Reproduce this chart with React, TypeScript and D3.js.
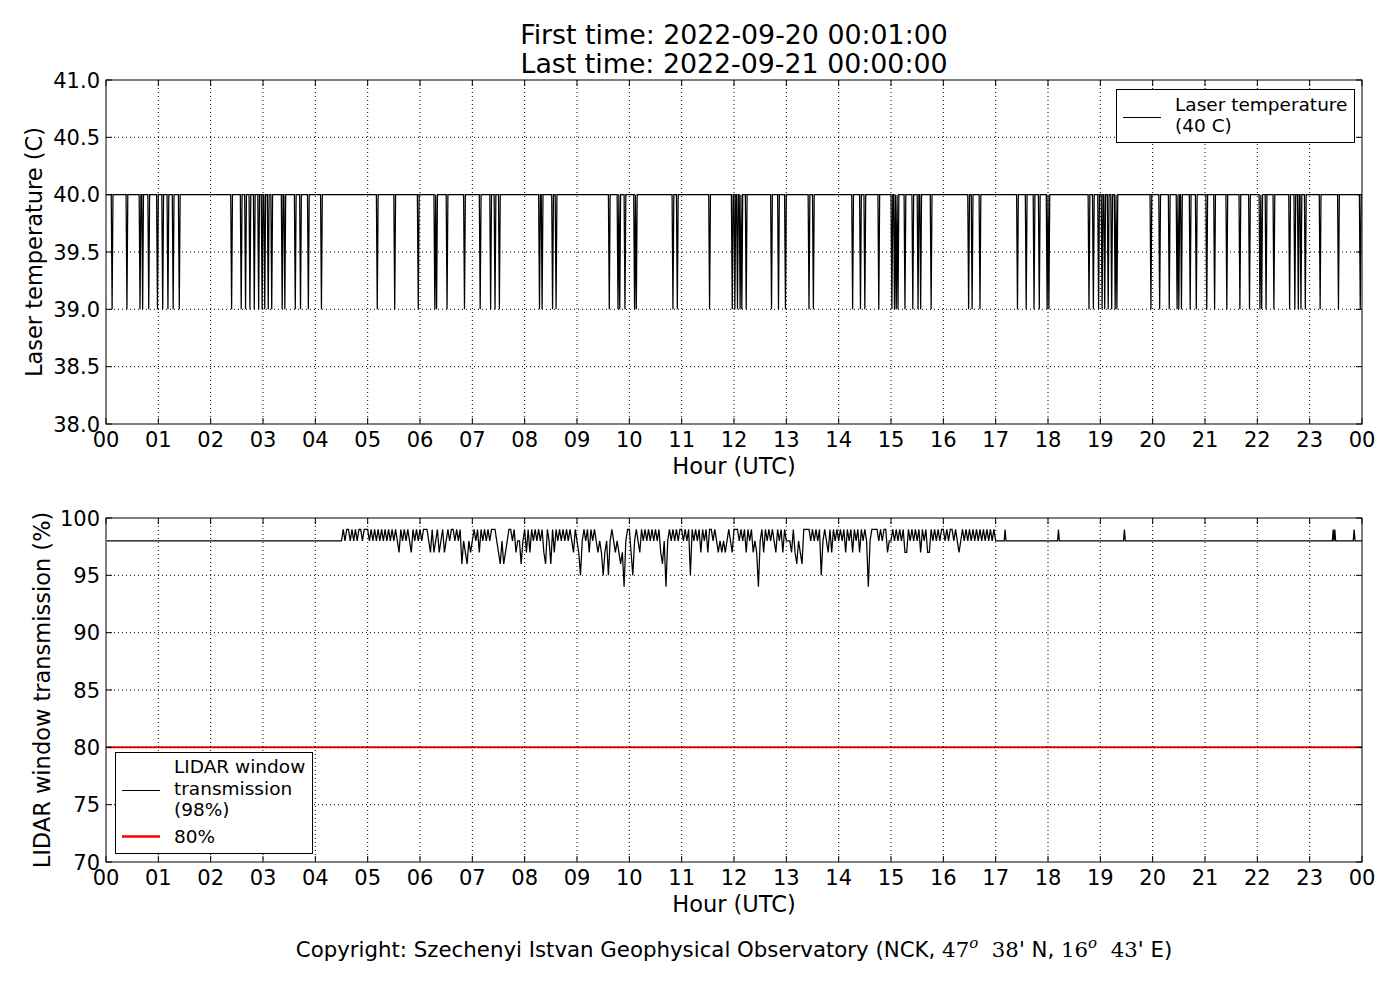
import React from "react";
import * as d3 from "d3";

// chart texts
const firstTime = "2022-09-20 00:01:00";
const lastTime = "2022-09-21 00:00:00";
const copyrightText = "Copyright: Szechenyi Istvan Geophysical Observatory (NCK, ";

// x axis: one tick per hour
const hourTicks = [0, 1, 2, 3, 4, 5, 6, 7, 8, 9, 10, 11, 12, 13, 14, 15, 16, 17, 18, 19, 20, 21, 22, 23, 24];
const hourLabels = ["00", "01", "02", "03", "04", "05", "06", "07", "08", "09", "10", "11",
  "12", "13", "14", "15", "16", "17", "18", "19", "20", "21", "22", "23", "00"];

// top panel: laser temperature, 40 C with one-minute drops to 39 C (hour of each drop)
const tempTicks = [38.0, 38.5, 39.0, 39.5, 40.0, 40.5, 41.0];
const tempNormal = 40;
const tempLow = 39;
const tempDrops = [
  0.11, 0.40, 0.65, 0.70, 0.81, 0.98, 1.09, 1.19, 1.29, 1.40,
  2.40, 2.59, 2.66, 2.75, 2.83, 2.91, 2.98, 3.04, 3.10, 3.17, 3.36, 3.41, 3.61, 3.71, 3.87,
  4.11, 5.19, 5.51, 5.97, 6.29, 6.32, 6.51, 6.85, 7.15, 7.35, 7.43, 7.52, 8.29, 8.34,
  8.54, 8.60, 9.62, 9.79, 9.82, 9.92, 10.10, 10.13, 10.83, 10.91, 11.53,
  11.96, 12.02, 12.06, 12.11, 12.15, 12.23, 12.71, 12.85, 12.99, 13.44, 13.52,
  14.27, 14.41, 14.50, 14.76, 15.01, 15.06, 15.10, 15.14, 15.27, 15.41, 15.52, 15.57, 15.76,
  16.48, 16.55, 16.70, 17.41, 17.58, 17.74, 17.83, 17.98, 18.02,
  18.79, 18.87, 18.96, 19.03, 19.09, 19.15, 19.22, 19.28, 19.32,
  19.96, 20.14, 20.32, 20.46, 20.50, 20.55, 20.71, 20.84, 21.03, 21.19, 21.41, 21.67, 21.85,
  22.05, 22.08, 22.17, 22.31, 22.62, 22.72, 22.78, 22.83, 22.91, 23.20, 23.55, 23.96,
];

// bottom panel: LIDAR window transmission (%)
const transTicks = [70, 75, 80, 85, 90, 95, 100];
const transNormal = 98;
const transThreshold = 80;
// busy part of the day, one digit per 2 minutes (value - 90), one string per hour from 04 to 16
const transFirstHour = 4;
const transHourly = [
  "888888888888888898998989899899",
  "989898989898989898798989879898",
  "989998797897897898998989687687",
  "898979898989998768678998978868",
  "979798989897698697989898989879",
  "875898979898787578589878767489",
  "975898798989898989768489898989",
  "989895989897989799898787878987",
  "999898979897874897989898798979",
  "888797687699998989895898797989",
  "898979897989798984899998989978",
  "898989897798989897989779898989",
  "989899898789898989898989898989",
];
// short rises to 99 % later in the day (hour)
const transSpikes = [17.18, 18.2, 19.46, 23.45, 23.48, 23.85];
const transSpikeValue = 99;

const W = 1400;
const H = 1000;
const left = 106;
const right = 1362;
const topPanel = { y0: 80, y1: 424 };
const botPanel = { y0: 518, y1: 862 };
const font = "'DejaVu Sans', sans-serif";
const serif = "'DejaVu Serif', serif";

const x = d3.scaleLinear().domain([0, 24]).range([left, right]);

// laser series, one value per minute
const dropMinutes = new Set(tempDrops.map(h => Math.round(h * 60)));
const tempSeries: [number, number][] = d3.range(1, 1441).map(m => [m / 60, dropMinutes.has(m) ? tempLow : tempNormal]);

// transmission series
const transSeries: [number, number][] = [[1 / 60, transNormal]];
transHourly.forEach((s, k) => {
  s.split("").forEach((c, i) => transSeries.push([transFirstHour + k + i / 30, 90 + Number(c)]));
});
transSeries.push([transFirstHour + transHourly.length, transNormal]);
transSpikes.forEach(t => {
  transSeries.push([t - 1 / 60, transNormal], [t, transSpikeValue], [t + 1 / 60, transNormal]);
});
transSeries.push([24, transNormal]);
transSeries.sort((a, b) => a[0] - b[0]);

function Panel({ id, y0, y1, domain, ticks, fmt, label, labelX, series, threshold, children }: any) {
  const y = d3.scaleLinear().domain(domain).range([y1, y0]);
  const line = d3.line<[number, number]>().x(d => x(d[0])).y(d => y(d[1]));
  const tl = 6;
  return (
    <g>
      <defs>
        <clipPath id={id}>
          <rect x={left} y={y0} width={right - left} height={y1 - y0} />
        </clipPath>
      </defs>
      <g clipPath={`url(#${id})`}>
        {threshold !== undefined && (
          <line x1={left} x2={right} y1={y(threshold)} y2={y(threshold)} stroke="#ff0000" strokeWidth={2} />
        )}
        <path d={line(series) || ""} fill="none" stroke="#000" strokeWidth={1.25} />
      </g>
      {/* grid */}
      {hourTicks.slice(1, -1).map(h => (
        <line key={"gx" + h} x1={x(h)} x2={x(h)} y1={y0} y2={y1} stroke="#000" strokeWidth={1} strokeDasharray="1,3" />
      ))}
      {ticks.slice(1, -1).map((t: number) => (
        <line key={"gy" + t} x1={left} x2={right} y1={y(t)} y2={y(t)} stroke="#000" strokeWidth={1} strokeDasharray="1,3" />
      ))}
      {/* ticks, inward on all sides */}
      {hourTicks.map(h => (
        <g key={"tx" + h}>
          <line x1={x(h)} x2={x(h)} y1={y1} y2={y1 - tl} stroke="#000" />
          <line x1={x(h)} x2={x(h)} y1={y0} y2={y0 + tl} stroke="#000" />
        </g>
      ))}
      {ticks.map((t: number) => (
        <g key={"ty" + t}>
          <line x1={left} x2={left + tl} y1={y(t)} y2={y(t)} stroke="#000" />
          <line x1={right} x2={right - tl} y1={y(t)} y2={y(t)} stroke="#000" />
        </g>
      ))}
      <rect x={left} y={y0} width={right - left} height={y1 - y0} fill="none" stroke="#000" strokeWidth={1} />
      {/* tick labels */}
      {hourTicks.map((h, i) => (
        <text key={"lx" + h} x={x(h)} y={y1 + 23} textAnchor="middle" fontSize={21}>{hourLabels[i]}</text>
      ))}
      {ticks.map((t: number) => (
        <text key={"ly" + t} x={left - 6} y={y(t) + 7.5} textAnchor="end" fontSize={21}>{fmt(t)}</text>
      ))}
      <text x={(left + right) / 2} y={y1 + 50} textAnchor="middle" fontSize={22.5}>Hour (UTC)</text>
      <text transform={`translate(${labelX},${(y0 + y1) / 2}) rotate(-90)`} textAnchor="middle" fontSize={22.5}>{label}</text>
      {children}
    </g>
  );
}

export default function App() {
  return (
    <div style={{ position: "absolute", left: 0, top: 0 }}>
      <svg width={W} height={H} fontFamily={font} style={{ display: "block", background: "#fff" }}>
        <rect width={W} height={H} fill="#fff" />
        <text x={(left + right) / 2} y={44} textAnchor="middle" fontSize={26.8}>{`First time: ${firstTime}`}</text>
        <text x={(left + right) / 2} y={73} textAnchor="middle" fontSize={26.8}>{`Last time: ${lastTime}`}</text>

        <Panel id="clipTop" y0={topPanel.y0} y1={topPanel.y1} domain={[38, 41]} ticks={tempTicks}
          fmt={(v: number) => v.toFixed(1)} label="Laser temperature (C)" labelX={42} series={tempSeries}>
          <g>
            <rect x={1116.5} y={89.5} width={238} height={53} fill="#fff" stroke="#000" />
            <line x1={1123} x2={1161} y1={117.5} y2={117.5} stroke="#000" />
            <text x={1175} y={111} fontSize={18.5}>Laser temperature</text>
            <text x={1175} y={131.5} fontSize={18.5}>(40 C)</text>
          </g>
        </Panel>

        <Panel id="clipBot" y0={botPanel.y0} y1={botPanel.y1} domain={[70, 100]} ticks={transTicks}
          fmt={(v: number) => String(v)} label="LIDAR window transmission (%)" labelX={50}
          series={transSeries} threshold={transThreshold}>
          <g>
            <rect x={115.5} y={752.5} width={197} height={101} fill="#fff" stroke="#000" />
            <line x1={122} x2={160} y1={790.5} y2={790.5} stroke="#000" />
            <text x={174} y={773} fontSize={18.5}>LIDAR window</text>
            <text x={174} y={795} fontSize={18.5}>transmission</text>
            <text x={174} y={816} fontSize={18.5}>(98%)</text>
            <line x1={122} x2={160} y1={836.5} y2={836.5} stroke="#ff0000" strokeWidth={2.5} />
            <text x={174} y={842.5} fontSize={18.5}>{`${transThreshold}%`}</text>
          </g>
        </Panel>

        <text x={(left + right) / 2} y={957} textAnchor="middle" fontSize={21.3}>
          {copyrightText}
          <tspan fontFamily={serif}>47</tspan>
          <tspan fontFamily={serif} fontStyle="italic" fontSize={15} dy={-9}>o</tspan>
          <tspan dy={9}>{"\u00a0\u00a0"}</tspan>
          <tspan fontFamily={serif}>38</tspan>
          {"' N, "}
          <tspan fontFamily={serif}>16</tspan>
          <tspan fontFamily={serif} fontStyle="italic" fontSize={15} dy={-9}>o</tspan>
          <tspan dy={9}>{"\u00a0\u00a0"}</tspan>
          <tspan fontFamily={serif}>43</tspan>
          {"' E)"}
        </text>
      </svg>
    </div>
  );
}
